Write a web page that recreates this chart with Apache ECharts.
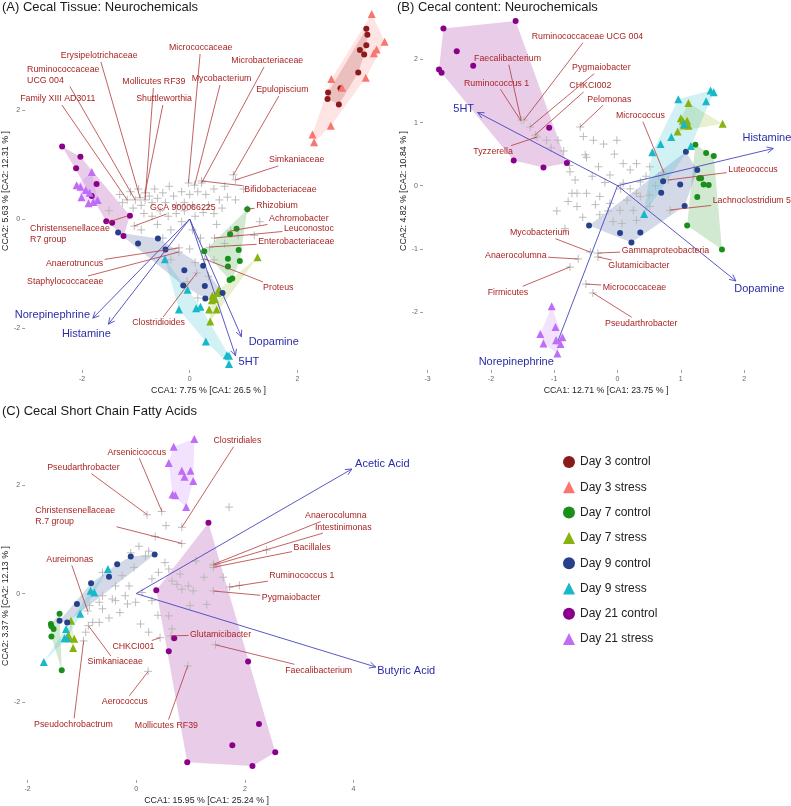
<!DOCTYPE html>
<html><head><meta charset="utf-8">
<script src="https://cdn.jsdelivr.net/npm/echarts@6/dist/echarts.min.js"></script>
<style>html,body{margin:0;padding:0;background:#fff}#c{width:791px;height:806px}</style>
</head><body><div id="c"></div>
<script>
// ---------- DATA ----------
const groupNames = ['Day 3 control','Day 3 stress','Day 7 control','Day 7 stress','Day 9 control','Day 9 stress','Day 21 control','Day 21 stress'];

// Panel A: Cecal Tissue: Neurochemicals (site scores)
const a_d3c = [[3.28,3.49],[3.30,3.38],[3.28,3.19],[3.16,3.10],[3.24,3.02],[3.13,2.69],[2.80,2.40],[2.57,2.32],[2.56,2.20],[2.77,2.10]];
const a_d3s = [[3.38,3.76],[3.62,3.25],[3.47,3.11],[3.42,3.04],[3.27,2.59],[2.63,2.57],[2.83,2.41],[2.62,1.71],[2.28,1.55],[2.31,1.41]];
const a_d7c = [[1.07,0.18],[0.87,-0.18],[0.75,-0.28],[0.27,-0.59],[0.91,-0.57],[0.71,-0.73],[0.93,-0.77],[0.71,-0.87],[0.74,-1.12],[0.79,-1.09]];
const a_d7s = [[1.26,-0.70],[0.54,-1.30],[0.51,-1.36],[0.42,-1.41],[0.47,-1.47],[0.41,-1.49],[0.36,-1.66],[0.50,-1.66],[0.38,-1.88]];
const a_d9c = [[-1.33,-0.25],[-0.96,-0.45],[-0.59,-0.36],[-0.45,-0.56],[-0.10,-0.94],[-0.12,-1.22],[0.25,-0.86],[0.28,-1.23],[0.29,-1.46],[0.61,-1.36]];
const a_d9s = [[-0.46,-0.74],[-0.20,-1.66],[-0.04,-1.30],[0.12,-1.64],[0.20,-1.61],[0.30,-2.25],[0.69,-2.50],[0.73,-2.51],[0.73,-2.66]];
const a_d21c = [[-2.37,1.33],[-2.03,1.14],[-2.11,0.93],[-1.73,0.64],[-1.82,0.42],[-1.11,0.06],[-1.55,-0.04],[-1.44,-0.07],[-1.23,-0.31]];
const a_d21s = [[-1.82,0.86],[-2.10,0.62],[-2.03,0.59],[-1.86,0.48],[-1.93,0.53],[-2.01,0.40],[-1.88,0.29],[-1.79,0.31],[-1.71,0.35]];
// species scores (crosses)
const crossA = [[-0.02,0.66],[-0.92,0.39],[-1.01,0.35],[-0.83,0.35],[-1.16,0.35],[-0.83,0.48],[0.09,0.62],[0.22,0.66],[0.81,0.81],[0.85,0.72],[0.22,0.70],[1.07,0.18],[0.76,-0.22],[0.46,-0.35],[0.37,-0.52],[0.28,-0.74],[0.13,-0.99],[-0.20,-0.61],[-0.20,-0.53],[-1.03,-0.13],
[-1.3,0.45],[-1.25,0.3],[-1.1,0.5],[-1.05,0.2],[-0.95,0.55],[-0.9,0.25],[-0.75,0.42],[-0.7,0.3],[-0.65,0.55],[-0.6,0.38],[-0.5,0.48],[-0.45,0.3],[-0.38,0.6],[-0.3,0.42],[-0.25,0.25],[-0.15,0.5],[-0.1,0.3],[0.0,0.45],[0.05,0.25],[0.15,0.5],[0.3,0.45],[0.35,0.25],[0.45,0.55],[0.55,0.35],[0.65,0.6],[0.7,0.4],[-0.85,0.1],[-0.7,0.05],[-0.55,0.15],[-0.4,0.05],[-0.25,0.1],[-0.1,0.15],[0.1,0.05],[0.25,0.12],[0.45,0.1],[0.6,0.2],[0.85,0.35],[-0.9,-0.2],[-0.6,-0.1],[-0.35,-0.2],[-0.15,-0.05],[0.05,-0.2],[0.2,-0.35],[0.5,-0.1],[0.65,-0.45],[0.9,-0.3],[-0.5,-0.35],[-0.35,-0.75],[0.0,-0.55],[0.1,-0.8],[0.45,-0.75],[-0.05,-1.15],[0.35,-1.05],[0.15,-1.45],[1.2,-0.3],[1.3,-0.05],[-1.5,0.15],[1.0,0.55]];
// arrows: [tipX, tipY, labelX, labelY, name]
const arrowsA = [[-1.80,-1.82,-2.55,-1.77,'Norepinephrine'],[-1.51,-1.93,-1.92,-2.11,'Histamine'],[0.96,-2.16,1.56,-2.25,'Dopamine'],[0.85,-2.51,1.10,-2.63,'5HT']];
// labels: [text, labelLeftX, labelCenterY, pointX, pointY]
const labelsA = [
['Micrococcaceae',-0.387,3.138,-0.024,0.661],['Erysipelotrichaceae',-2.394,2.991,-0.921,0.385],['Ruminococcaceae\nUCG 004',-3.020,2.642,-1.013,0.349],
['Mollicutes RF39',-1.252,2.514,-0.829,0.349],['Family XIII AD3011',-3.149,2.202,-1.160,0.349],['Shuttleworthia',-0.994,2.202,-0.829,0.477],
['Mycobacterium',0.037,2.569,0.092,0.624],['Microbacteriaceae',0.773,2.899,0.221,0.661],['Epulopiscium',1.234,2.367,0.810,0.807],
['Simkaniaceae',1.473,1.083,0.847,0.716],['Bifidobacteriaceae',1.013,0.532,0.221,0.697],['Rhizobium',1.234,0.239,1.068,0.183],
['Achromobacter',1.473,0.0,0.755,-0.220],['Leuconostoc',1.750,-0.183,0.460,-0.349],['Enterobacteriaceae',1.271,-0.422,0.368,-0.514],
['Proteus',1.363,-1.266,0.276,-0.734],['Clostridioides',-1.068,-1.908,0.129,-0.991],['Staphylococcaceae',-3.020,-1.156,-0.203,-0.606],
['Anaerotruncus',-2.670,-0.826,-0.203,-0.532],['Christensenellaceae\nR7 group',-2.965,-0.284,-1.160,0.055],['GCA 900066225',-0.737,0.202,-1.031,-0.128]];

// Panel B: Cecal content: Neurochemicals
const b_d7c = [[1.23,0.65],[1.40,0.52],[1.52,0.47],[1.29,0.12],[1.32,0.12],[1.36,0.02],[1.44,0.01],[1.26,-0.18],[1.10,-0.63],[1.65,-1.01]];
const b_d7s = [[1.12,1.31],[1.00,1.07],[1.03,1.03],[1.10,1.03],[1.12,0.95],[1.05,0.96],[1.66,0.98],[0.95,0.86]];
const b_d9c = [[1.08,0.54],[1.26,0.25],[0.72,0.07],[0.99,0.02],[0.69,-0.11],[1.06,-0.32],[0.04,-0.75],[0.36,-0.74],[0.22,-0.90],[-0.45,-0.63]];
const b_d9s = [[1.47,1.51],[1.52,1.48],[0.96,1.37],[1.40,1.34],[1.05,0.98],[0.85,0.77],[0.68,0.66],[0.55,0.53],[1.16,0.63],[0.42,-0.45]];
const b_d21c = [[-2.75,2.49],[-1.61,2.61],[-2.54,2.13],[-2.28,1.90],[-2.82,1.84],[-2.78,1.79],[-1.08,0.92],[-1.64,0.40],[-1.17,0.29],[-0.80,0.36]];
const b_d21s = [[-1.04,-1.91],[-0.98,-2.24],[-1.22,-2.35],[-1.17,-2.50],[-0.97,-2.45],[-0.87,-2.40],[-0.90,-2.51],[-0.95,-2.66]];
const crossB = [[-1.48,1.04],[-1.52,1.04],[-1.38,0.93],[-1.30,0.80],[-0.59,0.93],[-1.27,0.77],[0.73,0.20],[0.80,0.09],[0.83,-0.39],[-0.43,-1.05],[-0.62,-1.16],[-0.75,-1.29],[-0.31,-1.07],[-0.31,-1.13],[-0.50,-1.56],[-0.39,-1.70],
[-1.12,0.72],[-0.94,0.72],[-0.76,0.32],[-0.75,0.22],[-0.67,0.09],[-0.64,-0.12],[-0.49,-0.12],[-0.54,0.78],[-0.51,0.49],[-0.49,0.45],[-0.38,0.72],[-0.22,0.66],[-0.01,0.72],[0.09,0.35],[0.30,0.35],[-0.12,0.17],[0.09,0.04],[0.36,0.06],[0.51,0.30],[0.30,-0.12],
[-0.96,-0.40],[-0.78,-0.25],[-0.64,-0.33],[-0.72,-0.12],[-0.83,-0.68],[-0.28,-0.17],[-0.12,-0.28],[0.04,-0.39],[0.15,-0.23],[0.25,-0.39],[0.36,-0.17],[-0.07,-0.57],[0.07,-0.60],[-0.28,-0.46],[0.51,-0.33],
[0.6,0.0],[0.45,0.15],[0.2,0.25],[-0.05,0.5],[-0.3,0.3],[-0.2,0.05],[0.05,-0.05],[-0.4,0.15],[-0.85,0.55],[-1.05,0.6],[0.5,-0.15],[-0.15,-0.4],[0.3,-0.55],[0.2,-0.05],[-0.55,-0.5],[-0.35,-0.3],[0.65,0.15]];
const arrowsB = [[-2.21,1.16,-2.43,1.22,'5HT'],[2.46,0.59,2.36,0.75,'Histamine'],[1.87,-1.51,2.24,-1.64,'Dopamine'],[-0.96,-2.51,-1.60,-2.79,'Norepinephrine']];
const labelsB = [
['Ruminococcaceae UCG 004',-1.355,2.361,-1.477,1.041],['Faecalibacterium',-2.267,2.013,-1.524,1.041],['Pygmaiobacter',-0.719,1.870,-1.382,0.930],
['Ruminococcus 1',-2.425,1.623,-1.524,1.025],['CHKCI002',-0.761,1.580,-1.303,0.803],['Pelomonas',-0.477,1.369,-0.592,0.930],
['Tyzzerella',-2.278,0.539,-1.272,0.772],['Micrococcus',-0.024,1.109,0.735,0.201],['Luteococcus',1.750,0.260,0.798,0.090],
['Lachnoclostridium 5',1.504,-0.242,0.829,-0.385],['Mycobacterium',-1.698,-0.745,-0.434,-1.051],['Anaerocolumna',-2.093,-1.103,-0.624,-1.162],
['Firmicutes',-2.051,-1.689,-0.750,-1.288],['Gammaproteobacteria',0.066,-1.024,-0.308,-1.067],['Glutamicibacter',-0.145,-1.273,-0.308,-1.130],
['Micrococcaceae',-0.234,-1.610,-0.498,-1.558],['Pseudarthrobacter',-0.197,-2.181,-0.387,-1.700]];

// Panel C: Cecal Short Chain Fatty Acids
const c_d7c = [[-1.41,-0.37],[-1.57,-0.56],[-1.52,-0.65],[-1.56,-0.60],[-1.37,-1.41],[-1.56,-0.79]];
const c_d7s = [[-1.20,-0.50],[-1.25,-0.76],[-1.23,-0.82],[-1.14,-0.83],[-1.16,-1.00]];
const c_d9c = [[0.34,0.72],[-0.10,0.68],[-0.35,0.54],[-0.50,0.31],[-0.83,0.19],[-1.09,-0.19],[-1.41,-0.50],[-1.27,-0.53]];
const c_d9s = [[-0.52,0.45],[-0.84,0.05],[-0.77,0.02],[-1.03,-0.37],[-1.29,-0.65],[-1.28,-0.82],[-1.32,-0.82],[-1.70,-1.26]];
const c_d21c = [[1.33,1.30],[0.37,0.06],[0.70,-0.82],[0.60,-1.06],[2.06,-1.25],[2.26,-2.40],[2.56,-2.92],[2.14,-3.17],[1.77,-2.79],[0.94,-3.10]];
const c_d21s = [[0.69,2.70],[1.07,2.84],[0.60,2.40],[0.84,2.26],[1.00,2.26],[0.89,2.15],[1.05,2.07],[0.67,1.82],[0.72,1.81],[0.92,1.59]];
const crossC = [[0.84,1.22],[0.47,1.51],[0.20,1.45],[0.84,0.92],[-0.89,-0.32],[1.42,0.54],[1.42,0.52],[1.42,0.48],[1.72,0.12],[1.42,0.05],[0.64,-0.78],[1.46,-0.94],[0.44,-0.81],[-0.88,-0.59],[0.22,-1.43],[0.95,-1.33],[-0.97,-0.87],[1.71,1.59],
[0.05,0.87],[0.23,0.78],[0.17,0.69],[-0.04,0.48],[-0.26,0.33],[-0.62,0.39],[-0.38,0.14],[-0.13,0.14],[0.11,0.02],[0.29,0.27],[0.41,0.39],[0.53,0.57],[0.66,0.23],[0.75,0.17],[0.84,0.08],[0.96,0.14],[1.05,0.05],[0.60,0.45],[0.81,0.36],[0.29,-0.13],[-0.62,-0.04],[-0.44,-0.10],[-0.20,-0.04],
[-0.86,-0.22],[-0.68,-0.16],[-0.62,-0.28],[-0.38,-0.13],[-0.16,-0.19],[-0.01,-0.16],[-0.80,-0.53],[-0.68,-0.53],[-0.93,-0.71],[0.08,-0.56],[0.23,-0.71],[0.60,-0.41],[0.66,-0.65],[0.99,-0.22],
[1.25,0.3],[1.1,0.6],[1.6,0.3],[1.9,0.15],[2.4,0.8],[1.3,-0.2],[0.4,-0.4],[-0.3,-0.35],[-0.5,-0.45],[-0.1,0.75],[0.35,1.05],[0.55,1.25]];
const arrowsC = [[3.97,2.29,4.53,2.39,'Acetic Acid'],[4.41,-1.35,4.97,-1.42,'Butyric Acid']];
const labelsC = [
['Clostridiales',1.423,2.812,0.839,1.216],['Arsenicicoccus',-0.529,2.600,0.474,1.508],['Pseudarthrobacter',-1.637,2.313,0.201,1.453],
['Christensenellaceae\nR.7 group',-1.856,1.422,0.839,0.923],['Aureimonas',-1.655,0.631,-0.894,-0.320],['Anaerocolumna',3.108,1.435,1.423,0.539],
['Intestinimonas',3.290,1.221,1.423,0.521],['Bacillales',2.896,0.845,1.423,0.484],['Ruminococcus 1',2.451,0.325,1.715,0.119],
['Pygmaiobacter',2.312,-0.082,1.423,0.046],['Glutamicibacter',0.991,-0.759,0.639,-0.777],['Faecalibacterium',2.743,-1.411,1.460,-0.942],
['CHKCI001',-0.438,-0.973,0.438,-0.814],['Simkaniaceae',-0.894,-1.258,-0.876,-0.594],['Aerococcus',-0.633,-1.989,0.219,-1.435],
['Mollicutes RF39',-0.024,-2.428,0.949,-1.325],['Pseudochrobactrum',-1.880,-2.404,-0.967,-0.868]];

const ticksAx = [-2,0,2], ticksAy = [-2,0,2];
const ticksBx = [-3,-2,-1,0,1,2], ticksBy = [-2,-1,0,1,2];
const ticksCx = [-2,0,2,4], ticksCy = [-2,0,2];

// ---------- STYLE / LAYOUT ----------
const FONT = '"Liberation Sans", Arial, Helvetica, sans-serif';
const colors = ['#8B1A1A','#F8766D','#1A8F1A','#86B30E','#27408B','#17B8C9','#8B008B','#BF6DF6'];
const shapes = ['circle','triangle','circle','triangle','circle','triangle','circle','triangle'];
const panels = [
  {groups:[a_d3c,a_d3s,a_d7c,a_d7s,a_d9c,a_d9s,a_d21c,a_d21s], cross:crossA, arrows:arrowsA, labels:labelsA,
   grid:{left:22,top:12,width:370,height:358}, xr:[-3.057,3.757], yr:[-2.771,3.798], xt:ticksAx, yt:ticksAy,
   xname:'CCA1: 7.75 % [CA1: 26.5 % ]', yname:'CCA2: 5.63 % [CA2: 12.31 % ]'},
  {groups:[[],[],b_d7c,b_d7s,b_d9c,b_d9s,b_d21c,b_d21s], cross:crossB, arrows:arrowsB, labels:labelsB,
   grid:{left:423,top:12,width:366,height:358}, xr:[-3.073,2.709], yr:[-2.921,2.753], xt:ticksBx, yt:ticksBy,
   xname:'CCA1: 12.71 % [CA1: 23.75 % ]', yname:'CCA2: 4.82 % [CA2: 10.84 % ]'},
  {groups:[[],[],c_d7c,c_d7s,c_d9c,c_d9s,c_d21c,c_d21s], cross:crossC, arrows:arrowsC, labels:labelsC,
   grid:{left:22,top:432,width:366,height:350}, xr:[-2.044,4.635], yr:[-3.428,2.971], xt:ticksCx, yt:ticksCy,
   xname:'CCA1: 15.95 % [CA1: 25.24 % ]', yname:'CCA2: 3.37 % [CA2: 12.13 % ]'}
];

function convexHull(points){
  const p = points.slice().sort((a,b)=>a[0]-b[0]||a[1]-b[1]);
  if (p.length < 3) return p;
  const cr=(o,a,b)=>(a[0]-o[0])*(b[1]-o[1])-(a[1]-o[1])*(b[0]-o[0]);
  const lo=[]; for(const q of p){while(lo.length>=2&&cr(lo[lo.length-2],lo[lo.length-1],q)<=0)lo.pop();lo.push(q);}
  const up=[]; for(let i=p.length-1;i>=0;i--){const q=p[i];while(up.length>=2&&cr(up[up.length-2],up[up.length-1],q)<=0)up.pop();up.push(q);}
  lo.pop(); up.pop(); return lo.concat(up);
}
function rgba(hex,a){const n=parseInt(hex.slice(1),16);return `rgba(${n>>16},${(n>>8)&255},${n&255},${a})`;}
const mctx = document.createElement('canvas').getContext('2d');
function tw(t,size){mctx.font=size+'px '+FONT;return Math.max(...t.split('\n').map(s=>mctx.measureText(s).width));}

const LABEL_SIZE = 8.8, LABEL_LH = 11;
const grids=[], xAxes=[], yAxes=[], series=[];
panels.forEach((P,gi)=>{
  grids.push(P.grid);
  xAxes.push({type:'value', gridIndex:gi, min:P.xr[0], max:P.xr[1], position:'bottom', axisLine:{show:false, onZero:false}, splitLine:{show:false},
    axisTick:{show:true, length:3, customValues:P.xt, lineStyle:{color:'#888', width:0.8}},
    axisLabel:{customValues:P.xt, fontSize:7, color:'#666', margin:6, fontFamily:FONT},
    name:P.xname, nameLocation:'middle', nameGap:16, nameTextStyle:{fontSize:8.8, color:'#222', fontFamily:FONT}});
  yAxes.push({type:'value', gridIndex:gi, min:P.yr[0], max:P.yr[1], position:'left', axisLine:{show:false, onZero:false}, splitLine:{show:false},
    axisTick:{show:true, length:3, customValues:P.yt, lineStyle:{color:'#888', width:0.8}},
    axisLabel:{customValues:P.yt, fontSize:7, color:'#666', margin:5, fontFamily:FONT},
    name:P.yname, nameLocation:'middle', nameGap:12, nameRotate:90, nameTextStyle:{fontSize:8.8, color:'#222', fontFamily:FONT}});
  // hulls
  P.groups.forEach((pts,k)=>{
    if(!pts.length) return;
    const h = convexHull(pts);
    series.push({type:'custom', xAxisIndex:gi, yAxisIndex:gi, silent:true, z:1, clip:false, data:[[0,0]],
      renderItem:(params,api)=>({type:'polygon', shape:{points:h.map(p=>api.coord(p))}, style:{fill:rgba(colors[k],0.2)}})});
  });
  // crosses
  series.push({type:'custom', xAxisIndex:gi, yAxisIndex:gi, silent:true, z:2, clip:false, data:P.cross,
    renderItem:(params,api)=>{const c=api.coord([api.value(0),api.value(1)]);const s=4;
      return {type:'group', children:[
        {type:'line', shape:{x1:c[0]-s,y1:c[1],x2:c[0]+s,y2:c[1]}, style:{stroke:'#b5b5b5', lineWidth:0.9}},
        {type:'line', shape:{x1:c[0],y1:c[1]-s,x2:c[0],y2:c[1]+s}, style:{stroke:'#b5b5b5', lineWidth:0.9}}]};}});
  // arrows
  series.push({type:'custom', xAxisIndex:gi, yAxisIndex:gi, silent:true, z:3, clip:false, data:P.arrows.map(a=>[a[0],a[1]]),
    renderItem:(params,api)=>{const a=P.arrows[params.dataIndex];
      const o=api.coord([0,0]), t=api.coord([a[0],a[1]]), l=api.coord([a[2],a[3]]);
      const ang=Math.atan2(t[1]-o[1],t[0]-o[0]), hl=7, ha=Math.PI/7;
      const st={stroke:'#4545C0', lineWidth:0.9};
      return {type:'group', children:[
        {type:'line', shape:{x1:o[0],y1:o[1],x2:t[0],y2:t[1]}, style:st},
        {type:'line', shape:{x1:t[0],y1:t[1],x2:t[0]-hl*Math.cos(ang-ha),y2:t[1]-hl*Math.sin(ang-ha)}, style:st},
        {type:'line', shape:{x1:t[0],y1:t[1],x2:t[0]-hl*Math.cos(ang+ha),y2:t[1]-hl*Math.sin(ang+ha)}, style:st},
        {type:'text', style:{x:l[0], y:l[1], text:a[4], fill:'#2B2BA8', font:'11px '+FONT, align:'center', verticalAlign:'middle', textAlign:'center', textVerticalAlign:'middle'}}]};}});
  // points
  P.groups.forEach((pts,k)=>{
    if(!pts.length) return;
    series.push({type:'scatter', name:groupNames[k], xAxisIndex:gi, yAxisIndex:gi, z:4, silent:true, data:pts,
      symbol:shapes[k], symbolSize:shapes[k]==='circle'?6:8, itemStyle:{color:colors[k], opacity:1}});
  });
  // species labels with leader segments
  series.push({type:'custom', xAxisIndex:gi, yAxisIndex:gi, silent:true, z:5, clip:false, data:P.labels.map(a=>[a[1],a[2]]),
    renderItem:(params,api)=>{const a=P.labels[params.dataIndex];
      const l=api.coord([a[1],a[2]]), p=api.coord([a[3],a[4]]);
      const nl=a[0].split('\n').length, w=tw(a[0],LABEL_SIZE), h=nl*LABEL_LH;
      const cx=l[0]+w/2, cy=l[1];
      const hw=w/2+1.5, hh=h/2+0.5;
      const dx=p[0]-cx, dy=p[1]-cy;
      const ch=[];
      if(Math.abs(dx)>hw||Math.abs(dy)>hh){
        const s=Math.min(dx!==0?hw/Math.abs(dx):Infinity, dy!==0?hh/Math.abs(dy):Infinity);
        const sx=cx+dx*s, sy=cy+dy*s;
        if(Math.hypot(p[0]-sx,p[1]-sy)>6) ch.push({type:'line', shape:{x1:sx,y1:sy,x2:p[0],y2:p[1]}, style:{stroke:'#B23A3A', lineWidth:0.8}});
      }
      ch.push({type:'text', style:{x:l[0], y:cy, text:a[0], fill:'#A82424', font:LABEL_SIZE+'px '+FONT, lineHeight:LABEL_LH,
        align:'left', verticalAlign:'middle', textAlign:'left', textVerticalAlign:'middle'}});
      return {type:'group', children:ch};}});
});

const chart = echarts.init(document.getElementById('c'), null, {renderer:'canvas', width:791, height:806});
chart.setOption({
  animation:false,
  backgroundColor:'#ffffff',
  title:[
    {text:'(A) Cecal Tissue: Neurochemicals', left:2, top:1, padding:0, textStyle:{fontSize:13, fontWeight:'normal', color:'#1a1a1a', fontFamily:FONT}},
    {text:'(B) Cecal content: Neurochemicals', left:397, top:1, padding:0, textStyle:{fontSize:13, fontWeight:'normal', color:'#1a1a1a', fontFamily:FONT}},
    {text:'(C) Cecal Short Chain Fatty Acids', left:2, top:405, padding:0, textStyle:{fontSize:13, fontWeight:'normal', color:'#1a1a1a', fontFamily:FONT}}
  ],
  legend:{data:groupNames, orient:'vertical', left:558, top:451, itemWidth:12, itemHeight:12, itemGap:13.3,
    textStyle:{fontSize:12, color:'#222', fontFamily:FONT}, selectedMode:false},
  grid:grids, xAxis:xAxes, yAxis:yAxes, series:series
});
</script></body></html>
